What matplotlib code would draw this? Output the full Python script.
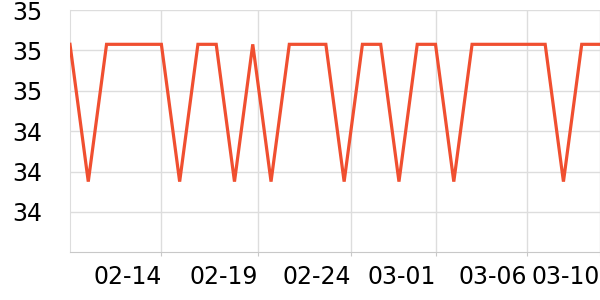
import numpy as np
import matplotlib
matplotlib.use("Agg")
import matplotlib.pyplot as plt

# =========================
# DATA
# =========================
dates = ['02-09', '02-10', '02-11', '02-12', '02-13', '02-14', '02-15', '02-16',
         '02-17', '02-18', '02-19', '02-20', '02-21', '02-22', '02-23', '02-24',
         '02-25', '02-26', '02-27', '02-28', '03-01', '03-02', '03-03', '03-04',
         '03-05', '03-06', '03-07', '03-08', '03-09', '03-10']
values = [34.83, 34.15, 34.83, 34.83, 34.83, 34.83, 34.15, 34.83,
          34.83, 34.15, 34.83, 34.15, 34.83, 34.83, 34.83, 34.15,
          34.83, 34.83, 34.15, 34.83, 34.83, 34.15, 34.83, 34.83,
          34.83, 34.83, 34.83, 34.15, 34.83, 34.83]

tick_pos = [5, 10.3, 15.35, 20, 25, 29]
tick_labels = ['02-14', '02-19', '02-24', '03-01', '03-06', '03-10']
y_ticks = [34.0, 34.2, 34.4, 34.6, 34.8, 35.0]

# =========================
# PLOT
# =========================
fig = plt.figure(figsize=(6, 3), dpi=100)
ax = fig.add_axes([70 / 600, 1 - 252.3 / 300, 530 / 600, 242.3 / 300])

x = np.arange(len(values))
ax.plot(x, values, color='#f04f30', linewidth=2.3, solid_joinstyle='miter', zorder=3)

ax.set_xlim(0, len(values) - 1)
ax.set_ylim(33.8, 35.0)

ax.set_yticks(y_ticks)
ax.set_yticklabels([f'{v:.0f}' for v in y_ticks])
ax.set_xticks(tick_pos)
ax.set_xticklabels(tick_labels, ha='right')

ax.grid(True, color='#dddddd', linewidth=1.0)
ax.set_axisbelow(True)
for side in ['top', 'right']:
    ax.spines[side].set_visible(False)
ax.spines['left'].set_color('#dddddd')
ax.spines['bottom'].set_color('#c8c8c8')

ax.tick_params(axis='y', length=0, pad=20, labelsize=17)
ax.tick_params(axis='x', length=3, color='#c8c8c8', pad=6, labelsize=17)

fig.savefig('out.png', dpi=100)
